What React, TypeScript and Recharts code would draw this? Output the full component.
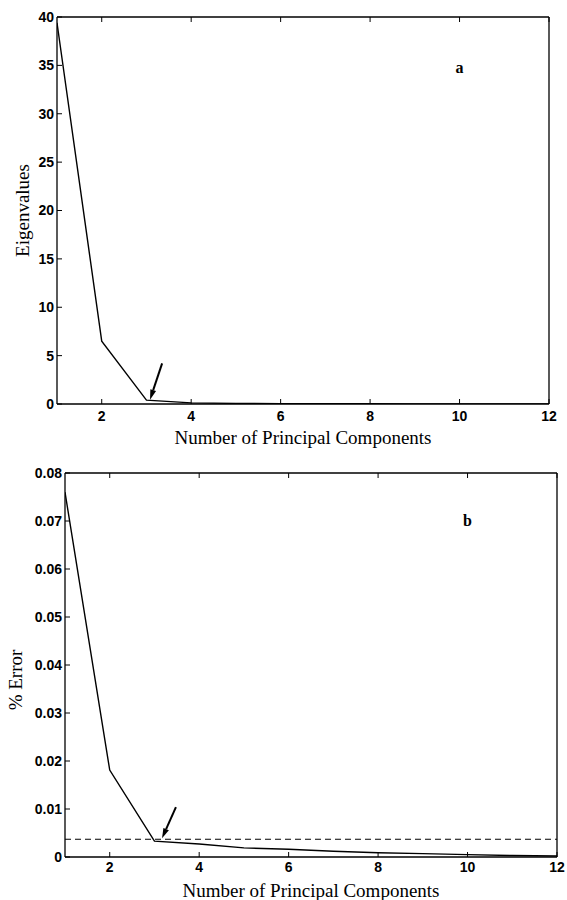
import React from 'react';
import { LineChart, Line, XAxis, YAxis, ReferenceLine, ReferenceDot } from 'recharts';

// values
const components = [1, 2, 3, 4, 5, 6, 7, 8, 9, 10, 11, 12];
const eigenvalues = [39.4, 6.5, 0.4, 0.12, 0.06, 0.04, 0.03, 0.02, 0.015, 0.01, 0.008, 0.005];
const errorPct = [0.076, 0.0181, 0.0033, 0.0027, 0.0019, 0.0016, 0.0012, 0.0009, 0.0007, 0.0005, 0.0003, 0.0002];
const errorLimit = 0.0037;

const xTicks = [2, 4, 6, 8, 10, 12];
const eigenTicks = [0, 5, 10, 15, 20, 25, 30, 35, 40];
const errorTicks = [0, 0.01, 0.02, 0.03, 0.04, 0.05, 0.06, 0.07, 0.08];

const eigenArrow = [{ x: 3.35, y: 4.2 }, { x: 3.08, y: 0.45 }];
const errorArrow = [{ x: 3.48, y: 0.0104 }, { x: 3.17, y: 0.0039 }];

const dataA = components.map((n, i) => ({ n, v: eigenvalues[i] }));
const dataB = components.map((n, i) => ({ n, v: errorPct[i] }));

const tickFont = { fontFamily: '"Liberation Sans", Arial, sans-serif', fontSize: 14, fontWeight: 700, fill: '#000' };
const titleFont = { fontFamily: '"Liberation Serif", "Times New Roman", serif', fontSize: 19, fill: '#000' };
const letterFont = { fontFamily: '"Liberation Serif", serif', fontSize: 16, fontWeight: 700, fill: '#000' };
const frame = { stroke: '#000', strokeWidth: 1.3 };
const blank = () => '';

const Arrow = (props: any) => {
  const { x1, y1, x2, y2 } = props;
  const dx = x2 - x1;
  const dy = y2 - y1;
  const len = Math.sqrt(dx * dx + dy * dy) || 1;
  const ux = dx / len;
  const uy = dy / len;
  const hl = 10;
  const hw = 3;
  const bx = x2 - ux * hl;
  const by = y2 - uy * hl;
  const pts = `${x2},${y2} ${bx - uy * hw},${by + ux * hw} ${bx + uy * hw},${by - ux * hw}`;
  return (
    <g>
      <line x1={x1} y1={y1} x2={bx} y2={by} stroke="#000" strokeWidth={2} />
      <polygon points={pts} fill="#000" />
    </g>
  );
};

const App: React.FC = () => {
  return (
    <div style={{ position: 'absolute', left: 0, top: 0, width: 567, height: 900, background: '#fff' }}>
      {/* a: eigenvalues */}
      <div style={{ position: 'absolute', left: 0, top: 0 }}>
        <LineChart width={567} height={454} data={dataA} margin={{ top: 17, right: 18, bottom: 0, left: 0 }}>
          <XAxis
            dataKey="n"
            type="number"
            domain={[1, 12]}
            ticks={xTicks}
            allowDataOverflow
            height={50}
            tickSize={-5}
            tickMargin={12}
            tick={tickFont}
            axisLine={frame}
            tickLine={{ stroke: '#000' }}
            label={{ value: 'Number of Principal Components', position: 'insideBottom', offset: 10, fill: '#000', style: titleFont }}
          />
          <XAxis
            xAxisId="top"
            orientation="top"
            dataKey="n"
            type="number"
            domain={[1, 12]}
            ticks={xTicks}
            height={1}
            mirror
            tickSize={5}
            tickFormatter={blank}
            axisLine={frame}
            tickLine={{ stroke: '#000' }}
          />
          <YAxis
            type="number"
            domain={[0, 40]}
            ticks={eigenTicks}
            allowDataOverflow
            width={57}
            tickSize={-5}
            tickMargin={8}
            tick={tickFont}
            axisLine={frame}
            tickLine={{ stroke: '#000' }}
            label={{ value: 'Eigenvalues', angle: -90, position: 'insideLeft', offset: 22, fill: '#000', style: { ...titleFont, textAnchor: 'middle' } }}
          />
          <YAxis
            yAxisId="right"
            orientation="right"
            type="number"
            domain={[0, 40]}
            ticks={eigenTicks}
            width={1}
            mirror
            tickSize={5}
            tickFormatter={blank}
            axisLine={frame}
            tickLine={{ stroke: '#000' }}
          />
          <Line type="linear" dataKey="v" stroke="#000" strokeWidth={1.4} dot={false} isAnimationActive={false} />
          <ReferenceLine segment={eigenArrow} shape={Arrow} ifOverflow="visible" />
          <ReferenceDot x={10} y={34.8} r={0} stroke="none" fill="none" label={{ value: 'a', position: 'center', style: letterFont }} />
        </LineChart>
      </div>

      {/* b: % error */}
      <div style={{ position: 'absolute', left: 0, top: 440 }}>
        <LineChart width={567} height={460} data={dataB} margin={{ top: 33, right: 10, bottom: 0, left: 0 }}>
          <XAxis
            dataKey="n"
            type="number"
            domain={[1, 12]}
            ticks={xTicks}
            allowDataOverflow
            height={43}
            tickSize={-5}
            tickMargin={10}
            tick={tickFont}
            axisLine={frame}
            tickLine={{ stroke: '#000' }}
            label={{ value: 'Number of Principal Components', position: 'insideBottom', offset: 3, fill: '#000', style: titleFont }}
          />
          <XAxis
            xAxisId="top"
            orientation="top"
            dataKey="n"
            type="number"
            domain={[1, 12]}
            ticks={xTicks}
            height={1}
            mirror
            tickSize={5}
            tickFormatter={blank}
            axisLine={frame}
            tickLine={{ stroke: '#000' }}
          />
          <YAxis
            type="number"
            domain={[0, 0.08]}
            ticks={errorTicks}
            allowDataOverflow
            width={65}
            tickSize={-5}
            tickMargin={8}
            tick={tickFont}
            axisLine={frame}
            tickLine={{ stroke: '#000' }}
            label={{ value: '% Error', angle: -90, position: 'insideLeft', offset: 15, dy: 15, fill: '#000', style: { ...titleFont, textAnchor: 'middle' } }}
          />
          <YAxis
            yAxisId="right"
            orientation="right"
            type="number"
            domain={[0, 0.08]}
            ticks={errorTicks}
            width={1}
            mirror
            tickSize={5}
            tickFormatter={blank}
            axisLine={frame}
            tickLine={{ stroke: '#000' }}
          />
          <ReferenceLine y={errorLimit} stroke="#000" strokeWidth={1.2} strokeDasharray="6 4" />
          <Line type="linear" dataKey="v" stroke="#000" strokeWidth={1.4} dot={false} isAnimationActive={false} />
          <ReferenceLine segment={errorArrow} shape={Arrow} ifOverflow="visible" />
          <ReferenceDot x={10} y={0.0702} r={0} stroke="none" fill="none" label={{ value: 'b', position: 'center', style: letterFont }} />
        </LineChart>
      </div>
    </div>
  );
};

export default App;
